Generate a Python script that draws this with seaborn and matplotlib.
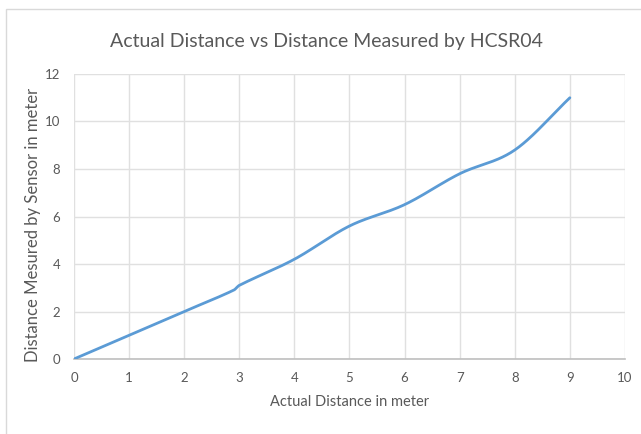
import numpy as np
import pandas as pd
import seaborn as sns
import matplotlib.pyplot as plt
from matplotlib.patches import Rectangle

# data (actual vs measured distance, metres)
actual_m = [0, 1, 2, 2.9, 3, 4, 5, 6, 7, 8, 9]
measured_m = [0, 1, 2, 2.9, 3.1, 4.2, 5.6, 6.5, 7.8, 8.8, 11]

x_ticks = list(range(0, 11))
y_ticks = list(range(0, 13, 2))


def smooth_line(xs, ys, steps=40):
    # cubic hermite curve through the points (Excel-like "smoothed line")
    xs = np.asarray(xs, float)
    ys = np.asarray(ys, float)
    n = len(xs)
    m = np.zeros(n)
    m[0] = (ys[1] - ys[0]) / (xs[1] - xs[0])
    m[-1] = (ys[-1] - ys[-2]) / (xs[-1] - xs[-2])
    for i in range(1, n - 1):
        m[i] = (ys[i + 1] - ys[i - 1]) / (xs[i + 1] - xs[i - 1])
    cx, cy = [], []
    for i in range(n - 1):
        h = xs[i + 1] - xs[i]
        for t in np.linspace(0, 1, steps, endpoint=False):
            h00 = 2 * t**3 - 3 * t**2 + 1
            h10 = t**3 - 2 * t**2 + t
            h01 = -2 * t**3 + 3 * t**2
            h11 = t**3 - t**2
            cx.append(xs[i] + t * h)
            cy.append(h00 * ys[i] + h10 * h * m[i] + h01 * ys[i + 1] + h11 * h * m[i + 1])
    cx.append(xs[-1])
    cy.append(ys[-1])
    return pd.DataFrame({'actual': cx, 'measured': cy})


sns.set_style('white')
plt.rcParams['font.family'] = ['Lato', 'DejaVu Sans']

fig = plt.figure(figsize=(6.41, 4.34), dpi=100)
ax = fig.add_axes([0.1154, 0.1728, 0.8596, 0.6567])

# chart area border (cropped at the right/bottom in the reference)
fig.patches.append(Rectangle((6 / 641, -0.1), 1.2, 1 - 9 / 434 + 0.1,
                             transform=fig.transFigure, fill=False,
                             edgecolor='#D9D9D9', linewidth=1))

curve = smooth_line(actual_m, measured_m)
sns.lineplot(data=curve, x='actual', y='measured', ax=ax, sort=False,
             color='#5B9BD5', linewidth=2, zorder=3)

ax.set_xlim(0, 10)
ax.set_ylim(0, 12)
ax.set_xticks(x_ticks)
ax.set_yticks(y_ticks)
ax.grid(True, color='#E0E0E0', linewidth=1)
for side in ['top', 'right', 'left']:
    ax.spines[side].set_visible(False)
ax.spines['bottom'].set_color('#BFBFBF')
ax.spines['bottom'].set_linewidth(1.2)
ax.tick_params(axis='both', length=0, labelsize=9.5, labelcolor='#595959')
ax.tick_params(axis='x', pad=9)
ax.tick_params(axis='y', pad=10)

ax.set_xlabel('Actual Distance in meter', fontsize=10.5, color='#595959', labelpad=8)
ax.set_ylabel('Distance Mesured by Sensor in meter', fontsize=12, color='#595959')
ax.yaxis.set_label_coords(-0.06, 0.47)
fig.text(0.51, 0.905, 'Actual Distance vs Distance Measured by HCSR04',
         ha='center', va='center', fontsize=14, color='#595959')

fig.savefig('out.png', dpi=100)
